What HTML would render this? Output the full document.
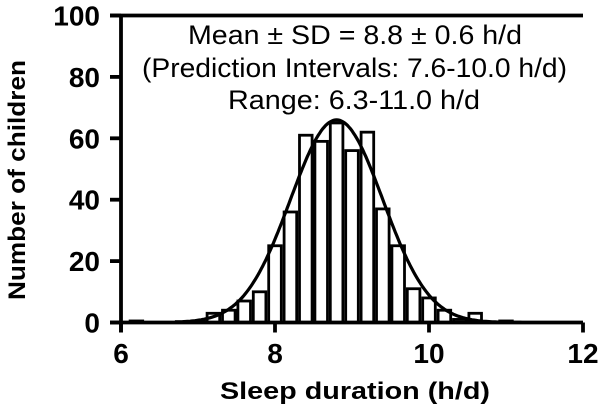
<!DOCTYPE html>
<html><head><meta charset="utf-8"><style>
html,body{margin:0;padding:0;background:#fff;}
svg{display:block;font-family:"Liberation Sans",Arial,sans-serif;}
</style></head><body>
<svg id="c" width="600" height="412" viewBox="0 0 600 412"></svg>
<script>
const binCenters=[6.2,6.8,7.0,7.2,7.4,7.6,7.8,8.0,8.2,8.4,8.6,8.8,9.0,9.2,9.4,9.6,9.8,10.0,10.2,10.4,10.6,11.0];
const counts=[0.5,0.3,0.5,3,4,7,10,25,36,61,59,65,56,62,37,25,11,8,4,1,3,0.5];
const xTicks=[6,8,10,12];
const yTicks=[0,20,40,60,80,100];
const fitMean=8.8, fitSD=0.6, fitPeak=66;
const binWidth=0.2;
const NS='http://www.w3.org/2000/svg';
const svg=document.getElementById('c');
const X0=121,X1=583,Y0=322.5,Y1=15.5;
function xs(v){return X0+(v-6)/(12-6)*(X1-X0);}
function ys(v){return Y0-(v/100)*(Y0-Y1);}
function mk(t,a,p){const e=document.createElementNS(NS,t);for(const k in a)e.setAttribute(k,a[k]);(p||svg).appendChild(e);return e;}
const bars=mk('g',{});


binCenters.forEach((c,i)=>{
  const r=mk('rect',{x:xs(c-binWidth/2)+1.4,y:ys(counts[i]),width:xs(c+binWidth/2)-xs(c-binWidth/2)-2.8,height:Math.max(Y0-ys(counts[i]),0.5),fill:'#fff',stroke:'#000','stroke-width':2.8},bars);
  
  
});
let d='';
for(let v=6.8;v<=11.2;v+=0.02){const y=fitPeak*Math.exp(-0.5*Math.pow((v-fitMean)/fitSD,2));d+=(d?'L':'M')+xs(v).toFixed(1)+','+ys(y).toFixed(1);}
const curve=mk('path',{d:d,fill:'none',stroke:'#000','stroke-width':3.2});


const ax=mk('g',{stroke:'#000','stroke-width':3.8,fill:'none'});


mk('line',{x1:X0,y1:Y1-1.5,x2:X0,y2:Y0+10},ax);
mk('line',{x1:X0-11,y1:Y0,x2:X1,y2:Y0},ax);
mk('line',{x1:X0-11,y1:Y1,x2:X1,y2:Y1},ax);
yTicks.forEach(t=>{
  mk('line',{x1:X0-11,y1:ys(t),x2:X0,y2:ys(t)},ax);
  const tx=mk('text',{x:100,y:ys(t)+10,'text-anchor':'end','font-size':28,'font-weight':'bold'});
  tx.textContent=t;
  
  
});
xTicks.forEach(t=>{
  mk('line',{x1:xs(t),y1:Y0,x2:xs(t),y2:Y0+10},ax);
  const tx=mk('text',{x:xs(t),y:363,'text-anchor':'middle','font-size':28,'font-weight':'bold'});
  tx.textContent=t;
  
  
});
</script>
<svg width="600" height="412" style="position:absolute;left:0;top:0" font-family="Liberation Sans, Arial, sans-serif">
<text x="188" y="44" textLength="334" lengthAdjust="spacingAndGlyphs" font-size="27">Mean ± SD = 8.8 ± 0.6 h/d</text>
<text x="142" y="77" textLength="425" lengthAdjust="spacingAndGlyphs" font-size="27">(Prediction Intervals: 7.6-10.0 h/d)</text>
<text x="228" y="109" textLength="252" lengthAdjust="spacingAndGlyphs" font-size="27">Range: 6.3-11.0 h/d</text>
<text x="220" y="399" textLength="270" lengthAdjust="spacingAndGlyphs" font-size="24" font-weight="bold">Sleep duration (h/d)</text>
<text transform="translate(25,300) rotate(-90)" textLength="240" lengthAdjust="spacingAndGlyphs" font-size="24" font-weight="bold">Number of children</text>
</svg>
</body></html>
